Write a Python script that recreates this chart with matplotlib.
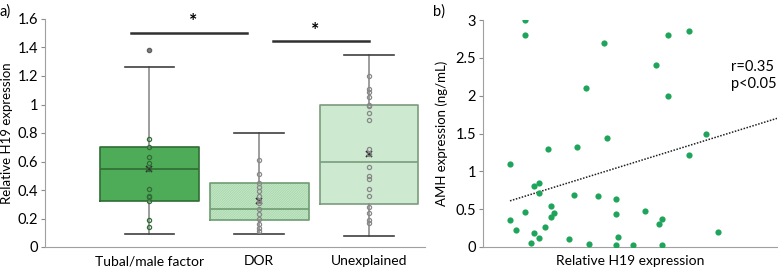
import numpy as np
import matplotlib.pyplot as plt

plt.rcParams['font.family'] = ['Lato', 'DejaVu Sans']

# ---- panel a data ----
groups = ["Tubal/male factor", "DOR", "Unexplained"]
q1 = [0.32, 0.19, 0.30]
q3 = [0.70, 0.45, 1.00]
medians = [0.55, 0.27, 0.60]
means = [0.55, 0.32, 0.65]
whislo = [0.09, 0.09, 0.08]
whishi = [1.26, 0.80, 1.35]
outliers = [[1.38], [], []]
points_tubal = [0.76, 0.70, 0.63, 0.59, 0.55, 0.41, 0.36, 0.35, 0.32, 0.19, 0.14]
points_dor = [0.61, 0.51, 0.45, 0.42, 0.39, 0.36, 0.32, 0.31, 0.27, 0.23, 0.20, 0.16, 0.13, 0.11]
points_unexpl = [1.20, 1.11, 1.09, 1.05, 1.00, 0.99, 0.94, 0.89, 0.69, 0.65, 0.56,
                 0.50, 0.48, 0.41, 0.36, 0.28, 0.24, 0.19, 0.17]

# ---- panel b data ----
h19 = [0.228, 0.228, 0.657, 1.122, 1.008, 0.943, 0.563, 1.008, 1.216, 1.120, 0.675,
       0.514, 0.355, 0.147, 0.306, 0.275, 0.306, 0.496, 0.624, 0.722, 0.369, 0.228,
       0.386, 0.371, 0.722, 0.881, 0.976, 0.959, 0.147, 0.179, 0.337, 0.275, 1.280,
       0.306, 0.467, 0.737, 0.259, 0.579, 0.722, 0.818, 0.976]
amh = [3.00, 2.80, 2.70, 2.85, 2.80, 2.40, 2.10, 2.00, 1.50, 1.22, 1.44,
       1.32, 1.30, 1.10, 0.85, 0.81, 0.72, 0.69, 0.67, 0.64, 0.54, 0.46,
       0.45, 0.40, 0.43, 0.48, 0.37, 0.30, 0.36, 0.23, 0.26, 0.18, 0.20,
       0.12, 0.11, 0.13, 0.05, 0.04, 0.02, 0.02, 0.02]
# trendline as drawn in the figure
trend_x = [0.147, 1.6]
trend_y = [0.61, 1.70]

fig = plt.figure(figsize=(7.78, 2.72), dpi=100)

# ================= a) =================
ax1 = fig.add_axes([45/778, 25/272, 380/778, 228/272])
pos = np.arange(3)
fills = ["#4eab57", "#a9d9ad", "white"]
hatches = [None, "/" * 14, "-" * 24]
hatch_cols = ["#4eab57", "#cbe9cd", "#cde9cf"]
edges = ["#2f6d34", "#6f9c72", "#7b9c7e"]
plt.rcParams['hatch.linewidth'] = 0.5
for i in range(3):
    ax1.bar(pos[i], q3[i] - q1[i], bottom=q1[i], width=0.9, color=fills[i],
            hatch=hatches[i], edgecolor=hatch_cols[i], linewidth=0, zorder=1)

stats = []
for i in range(3):
    stats.append(dict(med=medians[i], q1=q1[i], q3=q3[i], whislo=whislo[i],
                      whishi=whishi[i], mean=means[i], fliers=outliers[i]))
bp = ax1.bxp(stats, positions=pos, widths=0.9, showmeans=True, patch_artist=False,
             manage_ticks=False,
             whiskerprops=dict(color="#8c8c8c", lw=1.2),
             capprops=dict(color="#404040", lw=1.2),
             meanprops=dict(marker="x", markersize=4, markeredgecolor="#303030", mew=1.2),
             flierprops=dict(marker="o", markersize=3, markerfacecolor="#808080",
                             markeredgecolor="#606060"))
for i in range(3):
    bp['boxes'][i].set_color(edges[i])
    bp['boxes'][i].set_linewidth(1.2)
    bp['medians'][i].set_color(edges[i])
    bp['medians'][i].set_linewidth(1.2)
    bp['boxes'][i].set_zorder(2)
for i, pts in enumerate([points_tubal, points_dor, points_unexpl]):
    ec = "#2f6d34" if i == 0 else "#888888"
    ax1.plot([pos[i]] * len(pts), pts, "o", markersize=3, markerfacecolor="none",
             markeredgecolor=ec, mew=0.9, zorder=4)

ax1.set_xlim(-0.95, 2.51)
ax1.set_ylim(0, 1.6)
ax1.set_yticks(np.arange(0, 1.61, 0.2))
ax1.set_yticklabels(["0", "0.2", "0.4", "0.6", "0.8", "1", "1.2", "1.4", "1.6"])
ax1.set_xticks(pos)
ax1.set_xticklabels(groups)
ax1.tick_params(axis="x", length=0, labelsize=10, pad=6)
ax1.tick_params(axis="y", length=3, color="#8c8c8c", labelsize=10.5, pad=2)
for s in ["top", "right"]:
    ax1.spines[s].set_visible(False)
ax1.spines["left"].set_color("#a0a0a0")
ax1.spines["bottom"].set_color("#a0a0a0")
ax1.set_ylabel("Relative H19 expression", fontsize=9.5, labelpad=3)

# significance bars
ax1.plot([-0.17, 0.89], [1.50, 1.50], color="#303030", lw=1.8, clip_on=False)
ax1.plot([1.13, 2.0], [1.445, 1.445], color="#303030", lw=1.8, clip_on=False)
ax1.text(0.40, 1.58, "*", ha="center", va="center", fontsize=14, fontweight="bold")
ax1.text(1.51, 1.52, "*", ha="center", va="center", fontsize=14, fontweight="bold")
fig.text(0.0, 0.985, "a)", ha="left", va="top", fontsize=10.5)

# ================= b) =================
ax2 = fig.add_axes([483/778, 25/272, 294/778, 227/272])
ax2.scatter(h19, amh, s=20, color="#1fa55b", zorder=3, linewidths=0)
ax2.plot(trend_x, trend_y, linestyle=(0, (1, 1)), color="#202020", lw=1.1)
ax2.set_xlim(0, 1.6)
ax2.set_ylim(0, 3)
ax2.set_yticks([0, 0.5, 1, 1.5, 2, 2.5, 3])
ax2.set_yticklabels(["0", "0.5", "1", "1.5", "2", "2.5", "3"])
ax2.set_xticks([])
ax2.tick_params(axis="y", length=3, color="#8c8c8c", labelsize=10.5, pad=2)
for s in ["top", "right"]:
    ax2.spines[s].set_visible(False)
ax2.spines["left"].set_color("#a0a0a0")
ax2.spines["bottom"].set_color("#a0a0a0")
ax2.set_ylabel("AMH expression (ng/mL)", fontsize=9.5, labelpad=5)
ax2.set_xlabel("Relative H19 expression", fontsize=10, labelpad=6)
ax2.text(1.35, 2.27, "r=0.35\np<0.05", fontsize=10.5, ha="left", va="center",
         linespacing=1.3)
fig.text(433/778, 0.985, "b)", ha="left", va="top", fontsize=10.5)

fig.savefig("out.png", dpi=100)
